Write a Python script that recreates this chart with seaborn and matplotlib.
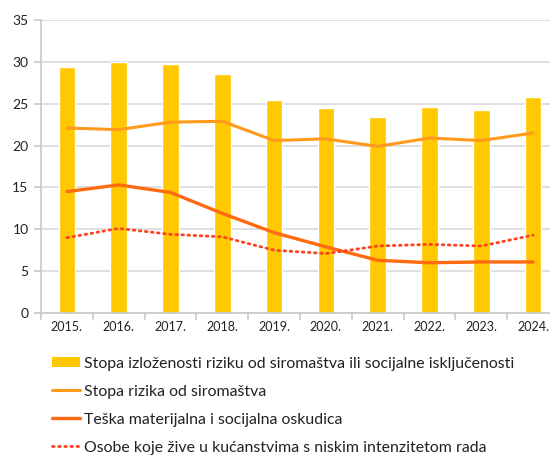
import numpy as np
import pandas as pd
import matplotlib
matplotlib.use("Agg")
import matplotlib.pyplot as plt
from matplotlib.lines import Line2D
from matplotlib.patches import Patch
import seaborn as sns

years = ["2015.", "2016.", "2017.", "2018.", "2019.", "2020.", "2021.", "2022.", "2023.", "2024."]
rizik_iskljucenost = [29.4, 30.0, 29.8, 28.5, 25.4, 24.5, 23.4, 24.6, 24.2, 25.8]
stopa_siromastva = [22.1, 21.9, 22.8, 22.9, 20.6, 20.8, 19.9, 20.9, 20.6, 21.5]
teska_oskudica = [14.5, 15.3, 14.4, 11.9, 9.6, 7.9, 6.3, 6.0, 6.1, 6.1]
nizak_intenzitet = [9.0, 10.1, 9.4, 9.1, 7.5, 7.1, 8.0, 8.2, 8.0, 9.3]

labels = [
    "Stopa izloženosti riziku od siromaštva ili socijalne isključenosti",
    "Stopa rizika od siromaštva",
    "Teška materijalna i socijalna oskudica",
    "Osobe koje žive u kućanstvima s niskim intenzitetom rada",
]

c_bar = "#FFC800"
c_pov = "#FF9A1A"
c_dep = "#FF6A10"
c_low = "#FF4020"

sns.set_theme(style="white")
plt.rcParams["font.family"] = ["Lato", "DejaVu Sans"]

df = pd.DataFrame({
    "godina": years,
    "pos": np.arange(len(years)),
    "arope": rizik_iskljucenost,
    "pov": stopa_siromastva,
    "dep": teska_oskudica,
    "low": nizak_intenzitet,
})

fig = plt.figure(figsize=(5.5, 4.57), dpi=100)
ax = fig.add_axes([41 / 550, 1 - 313 / 457, 518 / 550, 293 / 457])

sns.barplot(data=df, x="godina", y="arope", color=c_bar, width=0.32,
            saturation=1, ax=ax, zorder=2)
sns.lineplot(data=df, x="pos", y="pov", color=c_pov, lw=2.2, ax=ax, zorder=3)
sns.lineplot(data=df, x="pos", y="dep", color=c_dep, lw=2.4, ax=ax, zorder=3)
sns.lineplot(data=df, x="pos", y="low", color=c_low, lw=2.0, ax=ax, zorder=3,
             linestyle=(0, (0.6, 1.6)), dash_capstyle="round")

ax.set_xlim(-0.5, len(years) - 0.5)
ax.set_ylim(0, 35)
ax.set_yticks(np.arange(0, 36, 5))
ax.yaxis.grid(True, color="#D9D9D9", lw=1.2, zorder=0)
ax.set_axisbelow(True)
ax.set_xlabel("")
ax.set_ylabel("")

for s in ["top", "right"]:
    ax.spines[s].set_visible(False)
for s in ["left", "bottom"]:
    ax.spines[s].set_color("#C8C8C8")
    ax.spines[s].set_linewidth(1.2)

# category boundary ticks on the x axis
ax.set_xticks(np.arange(len(years)))
ax.set_xticklabels(years)
ax.set_xticks(np.arange(len(years) + 1) - 0.5, minor=True)
ax.tick_params(axis="x", which="major", length=0, pad=6, labelsize=9, colors="#222222")
ax.tick_params(axis="x", which="minor", length=5, width=1.2, color="#C8C8C8", bottom=True)
ax.tick_params(axis="y", length=5, width=1.2, color="#C8C8C8", left=True, pad=4,
               labelsize=10, colors="#222222")

handles = [
    Patch(facecolor=c_bar, edgecolor="none"),
    Line2D([], [], color=c_pov, lw=2.2),
    Line2D([], [], color=c_dep, lw=2.4),
    Line2D([], [], color=c_low, lw=2.0, linestyle=(0, (0.6, 1.6)), dash_capstyle="round"),
]
fig.legend(handles, labels, loc="upper left", bbox_to_anchor=(47 / 550, 1 - 352 / 457),
           frameon=False, fontsize=11.4, handlelength=1.8, handleheight=0.6,
           handletextpad=0.25, labelspacing=0.88, labelcolor="#222222",
           borderaxespad=0, borderpad=0.3)

fig.savefig("out.png", dpi=100)
